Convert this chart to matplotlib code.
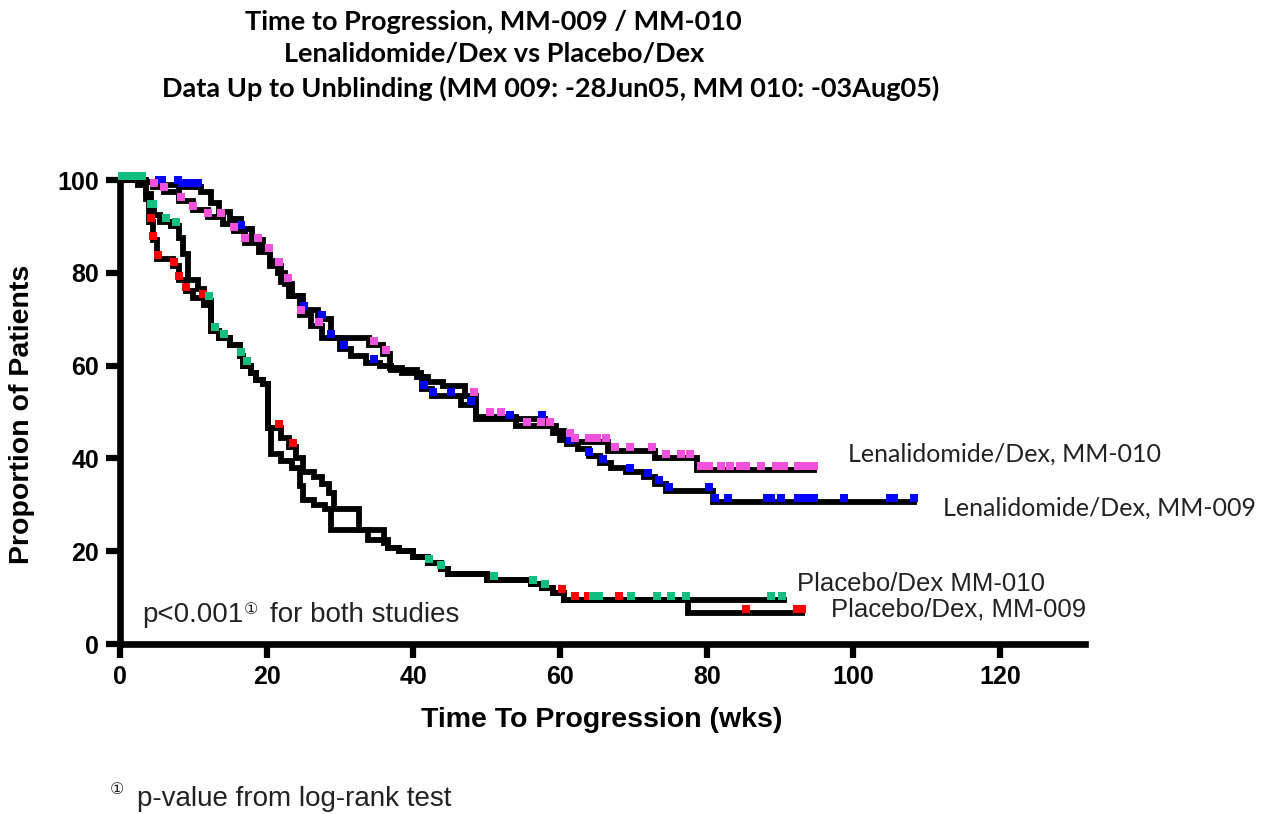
import numpy as np
import matplotlib
matplotlib.use("Agg")
import matplotlib.pyplot as plt

# ---------------- data ----------------
# Lenalidomide/Dex, MM-009 (blue censor marks)
len009_t = [0, 3, 5, 8, 11, 12.4, 13.5, 15, 16.5, 18, 19.5, 20.5, 21.5, 22.5, 23.5, 25, 27,
            28.8, 30, 31.5, 33.5, 35.5, 37, 40.5, 41.2, 42.5, 46.5, 48.5, 58, 59, 60, 61, 62.5,
            64, 65.5, 67, 69, 71.5, 73, 74.5, 80.9, 108.3]
len009_s = [100, 99.5, 99, 98.5, 97.5, 95, 93, 91.5, 89.5, 87, 85, 82.5, 80, 77.5, 75, 72, 70,
            66, 63.5, 62, 60.5, 60, 59, 57.5, 55, 53.5, 51.5, 48.5, 47, 45.5, 44, 43, 42,
            40.5, 39, 38, 37, 36, 34.5, 33, 30.5, 30.5]
len009_cens = [5.3, 5.7, 7.9, 8.5, 9.3, 10, 10.6, 16.5, 25.1, 27.6, 28.8, 30.6, 34.7, 41.5,
               42.7, 45.2, 47.9, 53.2, 57.6, 61.3, 64, 65.9, 69.5, 72, 73.5, 74.9, 80.3, 81.2,
               82.9, 88.3, 88.8, 90.2, 92.5, 93.2, 94, 94.7, 98.8, 105, 105.6, 108.3]

# Lenalidomide/Dex, MM-010 (pink censor marks)
len010_t = [0, 3, 4.5, 6, 8, 10, 12, 14, 15.5, 17, 19, 20.5, 22, 23, 24.5, 26, 27.5, 34, 35.8,
            36.8, 38.5, 41, 42, 44, 47, 48.5, 54, 59.5, 60.5, 62, 66.5, 73, 78.7, 94.7]
len010_s = [100, 99.5, 98.5, 97.5, 95.5, 93.5, 92, 90.5, 89, 86.5, 84.5, 81.5, 78, 75, 71,
            68.5, 66, 64.5, 62.5, 59.5, 58.5, 57.5, 56.5, 55.5, 53.5, 49, 47, 46, 44.5,
            43.5, 41.5, 40, 37.5, 37.5]
len010_cens = [4.6, 6, 8.3, 10, 12, 13.8, 15.5, 17, 18.8, 20.3, 21.7, 22.9, 24.7, 27.1, 34.6,
               36.3, 48.3, 50.4, 52, 55.5, 57.4, 58.7, 61.3, 62, 64, 65, 66.3, 67.5, 69.5,
               72.6, 74.5, 76.5, 77.8, 79.2, 80.3, 82, 83.2, 84.5, 85.4, 87.4, 89.5, 90.6,
               92.5, 93.5, 94.6]

# Placebo/Dex, MM-009 (red censor marks)
pla009_t = [0, 2.5, 3.5, 4, 4.5, 5, 7.2, 8, 9, 10, 11.5, 12.4, 13.5, 15, 16.3, 16.8, 17.8,
            18.5, 19.5, 20.2, 22, 23, 24, 25, 26.5, 27.5, 28.5, 29.2, 32.6, 36, 36.5, 38, 40,
            42, 43.8, 44.7, 50, 56, 57.5, 59, 60.5, 77.5, 93]
pla009_s = [100, 99, 96, 91, 87, 83, 81.5, 78.5, 76, 74.5, 73, 67.5, 66, 64.5, 62, 60, 58.5,
            57, 56, 46.5, 44.5, 42.5, 40, 37, 36, 34.5, 32.5, 29, 24.6, 21.8, 20.7, 20, 18.8,
            17.5, 16.2, 15, 13.8, 13, 12, 11, 9.5, 6.7, 6.7]
pla009_cens = [4.2, 4.5, 5.2, 7.4, 8, 9, 11.3, 21.7, 23.6, 58, 60.3, 62, 63.8, 68, 85.4,
               92.3, 92.8, 93]

# Placebo/Dex, MM-010 (green censor marks)
pla010_t = [0, 3.5, 4.2, 4.6, 5.5, 7, 8, 8.6, 9.3, 10.6, 11.5, 12.4, 13.5, 15, 16.3, 16.8,
            17.8, 18.5, 19.5, 20.2, 20.6, 22, 23.5, 24.5, 25, 26.5, 28, 28.8, 33.8, 36.5, 38,
            40, 42, 43.8, 44.7, 50, 56, 57.5, 59, 60.5, 90.6]
pla010_s = [100, 97, 94, 92.5, 91, 90, 87.5, 84, 78.5, 76.5, 74, 67.5, 66, 64.5, 62, 60, 58.5,
            57, 56, 46.5, 41, 39.5, 38, 34, 31, 30, 29, 24.6, 22.4, 20.7, 20, 18.8, 17.5,
            16.2, 15, 13.8, 13, 12, 11, 9.5, 9.5]
pla010_cens = [0.3, 1, 1.7, 2.4, 3, 4.2, 4.5, 6.3, 7.6, 12.1, 13, 14.2, 16.5, 17.3, 42.2,
               43.8, 51, 56.3, 58, 64.5, 65.3, 69.7, 73.3, 75.2, 77.2, 88.8, 90.3]

x_ticks = [0, 20, 40, 60, 80, 100, 120]
y_ticks = [0, 20, 40, 60, 80, 100]

title_lines = ["Time to Progression, MM-009 / MM-010",
               "Lenalidomide/Dex vs Placebo/Dex",
               "Data Up to Unblinding (MM 009: -28Jun05, MM 010: -03Aug05)"]

# ---------------- figure ----------------
W, H = 1270, 814
fig = plt.figure(figsize=(W / 100, H / 100), dpi=100)
fig.patch.set_facecolor("white")


def px(x, y):
    return x / W, 1 - y / H


ax = fig.add_axes([120 / W, (H - 644) / H, (1085 - 120) / W, (644 - 180) / H])
ax.set_xlim(0, 131.6)
ax.set_ylim(0, 100)


def step_value(t, s, x):
    t = np.asarray(t, float)
    s = np.asarray(s, float)
    idx = np.searchsorted(t, np.asarray(x, float), side="right") - 1
    return s[np.clip(idx, 0, len(s) - 1)]


curves = [
    (pla009_t, pla009_s, pla009_cens, "#FF0000"),
    (pla010_t, pla010_s, pla010_cens, "#12BF7E"),
    (len009_t, len009_s, len009_cens, "#0000FF"),
    (len010_t, len010_s, len010_cens, "#F152DB"),
]

for t, s, cens, col in curves:
    ax.step(t, s, where="post", color="black", lw=4.2, clip_on=False, zorder=3,
            solid_joinstyle="miter")
for t, s, cens, col in curves:
    ax.plot(cens, step_value(t, s, cens) + 0.9, linestyle="none", marker="s", ms=6.2,
            mew=0, color=col, clip_on=False, zorder=4)

for side in ("top", "right"):
    ax.spines[side].set_visible(False)
for side in ("left", "bottom"):
    ax.spines[side].set_linewidth(4.8)
    ax.spines[side].set_color("black")

ax.set_xticks(x_ticks)
ax.set_yticks(y_ticks)
ax.tick_params(direction="out", length=10, width=4.5, color="black", pad=5)
for lab in ax.get_xticklabels() + ax.get_yticklabels():
    lab.set_fontfamily("Liberation Sans")
    lab.set_fontweight("bold")
    lab.set_fontsize(18)

# ---------------- text ----------------
title_centers = [(493, 30), (494, 62), (551, 97)]
for line, (cx, by) in zip(title_lines, title_centers):
    fig.text(*px(cx, by), line, ha="center", va="baseline", fontsize=19.5,
             family="Lato", fontweight="bold", color="black")

fig.text(*px(22, 414), "Proportion of Patients", rotation=90, ha="center", va="center",
         fontsize=20.5, family="Liberation Sans", fontweight="bold")
fig.text(*px(602, 727), "Time To Progression (wks)", ha="center", va="baseline",
         fontsize=20.5, family="Liberation Sans", fontweight="bold")

fig.text(*px(848, 462), "Lenalidomide/Dex, MM-010", ha="left", va="baseline",
         fontsize=18, family="Lato", color="#222222")
fig.text(*px(943, 516), "Lenalidomide/Dex, MM-009", ha="left", va="baseline",
         fontsize=18, family="Lato", color="#222222")
fig.text(*px(797, 591), "Placebo/Dex MM-010", ha="left", va="baseline",
         fontsize=18.5, family="Liberation Sans", color="#222222")
fig.text(*px(831, 617), "Placebo/Dex, MM-009", ha="left", va="baseline",
         fontsize=18.5, family="Liberation Sans", color="#222222")

circ_family = ["DejaVu Sans", "Noto Sans CJK SC"]
fig.text(*px(142, 622), "p<0.001", ha="left", va="baseline", fontsize=20,
         family="Liberation Sans", color="#222222")
fig.text(*px(244, 614), "\u2460", ha="left", va="baseline", fontsize=11.5,
         family=circ_family, color="#222222")
fig.text(*px(270, 622), "for both studies", ha="left", va="baseline", fontsize=20,
         family="Liberation Sans", color="#222222")

fig.text(*px(110, 794), "\u2460", ha="left", va="baseline", fontsize=11.5,
         family=circ_family, color="#222222")
fig.text(*px(137, 806), "p-value from log-rank test", ha="left", va="baseline",
         fontsize=20, family="Liberation Sans", color="#222222")

fig.savefig("out.png", dpi=100, facecolor="white")
